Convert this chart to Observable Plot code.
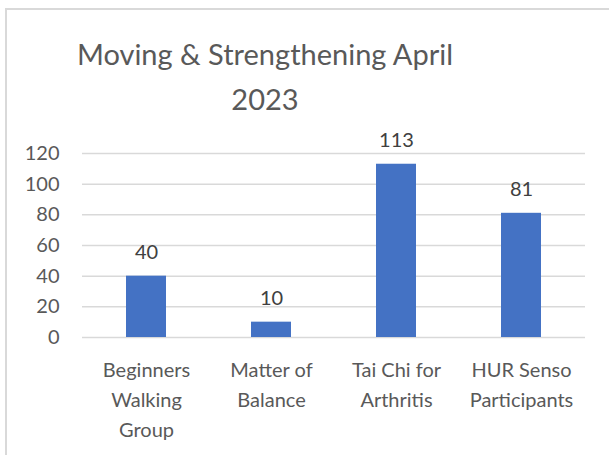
<!DOCTYPE html>
<html>
<head>
<meta charset="utf-8">
<script src="https://cdn.jsdelivr.net/npm/d3@7"></script>
<script src="https://cdn.jsdelivr.net/npm/@observablehq/plot@0.6"></script>
<style>
  html, body { margin: 0; padding: 0; background: #fff; width: 609px; height: 455px; overflow: hidden; }
  #frame { position: absolute; left: 5px; top: 8px; width: 700px; height: 600px;
           border-top: 2px solid #d9d9d9; border-left: 2px solid #d9d9d9; }
  #title { position: absolute; left: 65px; width: 400px; top: 31px; text-align: center; white-space: nowrap;
           font-family: Lato, sans-serif; font-size: 29px; line-height: 45px; color: #595959; }
  #chart { position: absolute; left: 0; top: 100px; }
</style>
</head>
<body>
<div id="frame"></div>
<div id="title">Moving &amp; Strengthening April<br>2023</div>
<div id="chart"></div>
<script>
const categories = ["Beginners Walking Group", "Matter of Balance", "Tai Chi for Arthritis", "HUR Senso Participants"];
const tickLabels = ["Beginners\nWalking\nGroup", "Matter of\nBalance", "Tai Chi for\nArthritis", "HUR Senso\nParticipants"];
const values = [40, 10, 113, 81];
const yTicks = [0, 20, 40, 60, 80, 100, 120];

const data = categories.map((c, i) => ({category: c, value: values[i]}));
const labelOf = new Map(categories.map((c, i) => [c, tickLabels[i]]));

const chart = Plot.plot({
  width: 609,
  height: 355,
  marginLeft: 82,
  marginRight: 24,
  marginTop: 53,
  marginBottom: 118,
  style: { fontFamily: "Lato, sans-serif", fontSize: "20px", color: "#595959", background: "transparent" },
  x: { domain: categories, paddingInner: 0.68, paddingOuter: 0.34, label: null },
  y: { domain: [0, 120], ticks: yTicks, label: null },
  marks: [
    Plot.gridY(yTicks, { stroke: "#d9d9d9", strokeOpacity: 1, strokeWidth: 1.5 }),
    Plot.barY(data, { x: "category", y: "value", fill: "#4472C4" }),
    Plot.text(data, { x: "category", y: "value", text: d => String(d.value), dy: -24, fill: "#404040", fontSize: 20 }),
    Plot.axisY({ ticks: yTicks, tickSize: 0, tickPadding: 23, fill: "#595959", fontSize: 20, label: null }),
    Plot.axisX({ tickSize: 0, tickPadding: 18, tickFormat: d => labelOf.get(d), lineHeight: 1.5, fill: "#595959", fontSize: 20, label: null })
  ]
});
document.getElementById("chart").appendChild(chart);
</script>
</body>
</html>
